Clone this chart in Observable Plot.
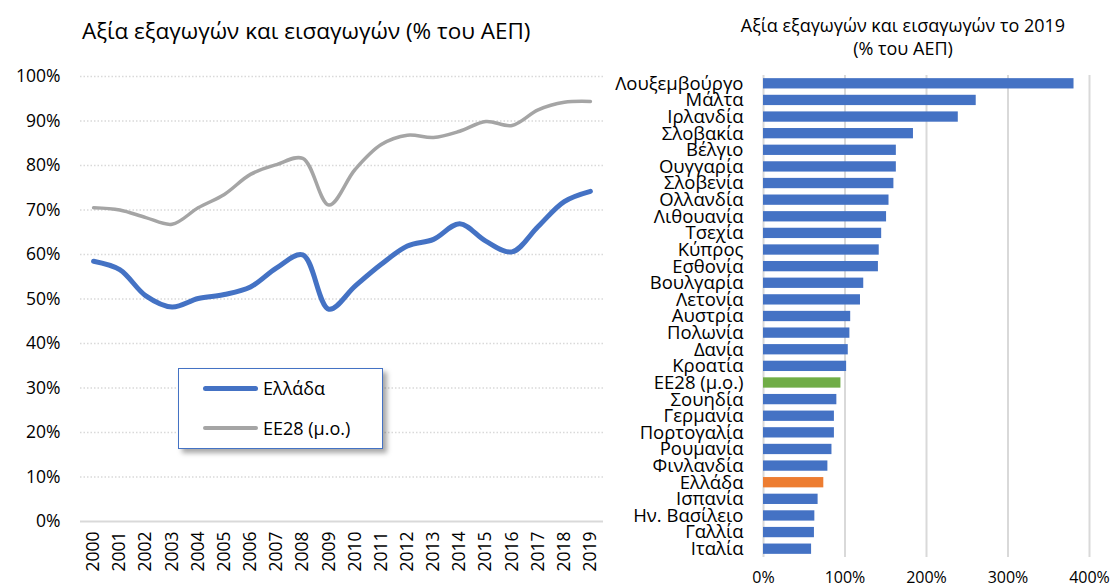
<!DOCTYPE html>
<html><head><meta charset="utf-8">
<script src="https://cdn.jsdelivr.net/npm/d3@7"></script>
<script src="https://cdn.jsdelivr.net/npm/@observablehq/plot@0.6"></script>
<style>
html,body{margin:0;padding:0;background:#fff;}
#wrap{position:relative;width:1111px;height:588px;overflow:hidden;font-family:"Open Sans",sans-serif;color:#000;}
.abs{position:absolute;}
#t1{left:82px;top:15px;font-size:22.5px;line-height:32px;white-space:nowrap;}
#t2{left:690px;width:426px;top:14px;font-size:18px;text-align:center;line-height:23px;white-space:nowrap;}
#legend{left:178px;top:368px;width:205px;height:81px;border:1.3px solid #4472C4;background:#fff;box-shadow:4px 4px 5px rgba(0,0,0,0.35);box-sizing:border-box;}
.li{position:absolute;left:24px;display:flex;align-items:center;font-size:18px;line-height:24px;}
.sw{width:55px;border-radius:3px;margin-right:5px;}
</style></head>
<body><div id="wrap">
<div id="t1" class="abs">Αξία εξαγωγών και εισαγωγών (% του ΑΕΠ)</div>
<div id="t2" class="abs">Αξία εξαγωγών και εισαγωγών το 2019<br>(% του ΑΕΠ)</div>
<div id="left" class="abs" style="left:0;top:60px;"></div>
<div id="right" class="abs" style="left:590px;top:60px;"></div>
<div id="legend" class="abs">
  <div class="li" style="top:7px;"><div class="sw" style="height:5px;background:#4472C4"></div>Ελλάδα</div>
  <div class="li" style="top:47px;"><div class="sw" style="height:3.5px;background:#A5A5A5"></div>ΕΕ28 (μ.ο.)</div>
</div>
</div>
<script>
// ---- Data ----
const years = ["2000","2001","2002","2003","2004","2005","2006","2007","2008","2009","2010","2011","2012","2013","2014","2015","2016","2017","2018","2019"];
const greece = [58.5,56.6,50.7,48.2,50.1,51.0,52.7,57.0,59.9,47.7,52.9,57.8,61.9,63.4,66.9,63.0,60.6,66.3,71.9,74.2];
const eu28 = [70.5,70.0,68.3,66.8,70.5,73.5,78.0,80.2,81.6,71.1,79.1,84.7,86.8,86.3,87.7,89.9,89.0,92.5,94.2,94.4];
const yTicks = [0,10,20,30,40,50,60,70,80,90,100];

const countries = ["Λουξεμβούργο","Μάλτα","Ιρλανδία","Σλοβακία","Βέλγιο","Ουγγαρία","Σλοβενία","Ολλανδία","Λιθουανία","Τσεχία","Κύπρος","Εσθονία","Βουλγαρία","Λετονία","Αυστρία","Πολωνία","Δανία","Κροατία","ΕΕ28 (μ.ο.)","Σουηδία","Γερμανία","Πορτογαλία","Ρουμανία","Φινλανδία","Ελλάδα","Ισπανία","Ην. Βασίλειο","Γαλλία","Ιταλία"];
const values2019 = [381,261,239,184,163,163,160,154,151,145,142,141,123,119,107,106,104,102,95,90,87,87,84,79,74,67,63,62.5,59];
const xTicks = [0,100,200,300,400];

const BLUE = "#4472C4", GRAY = "#A5A5A5", GREEN = "#70AD47", ORANGE = "#ED7D31", GRID = "#D9D9D9";
const FONT = "Open Sans, sans-serif";

// ---- Left chart ----
const lineData = years.flatMap((y,i)=>[{year:y,v:greece[i],s:"gr"},{year:y,v:eu28[i],s:"eu"}]);
const left = Plot.plot({
  width: 620, height: 528,
  marginLeft: 80, marginRight: 17, marginTop: 16, marginBottom: 67,
  style: {fontFamily: FONT, fontSize: "18px", color: "#000", background: "transparent"},
  x: {type: "point", domain: years, padding: 0.5, round: false, label: null},
  y: {domain: [0,100], label: null},
  marks: [
    Plot.ruleY(yTicks.filter(d=>d>0), {stroke: GRID, strokeWidth: 1.3, strokeDasharray: "1.5,2"}),
    Plot.ruleY([0], {stroke: GRID, strokeWidth: 2}),
    Plot.axisY(yTicks, {tickSize: 0, tickPadding: 20, tickFormat: d=>d+"%", fontSize: 17.5, label: null}),
    Plot.axisX({tickSize: 0, tickPadding: 10, tickRotate: -90, fontSize: 17.5, label: null}),
    Plot.line(lineData.filter(d=>d.s==="eu"), {x:"year", y:"v", stroke: GRAY, strokeWidth: 3.5, curve: "catmull-rom", strokeLinecap: "round"}),
    Plot.line(lineData.filter(d=>d.s==="gr"), {x:"year", y:"v", stroke: BLUE, strokeWidth: 5, curve: "catmull-rom", strokeLinecap: "round"})
  ]
});
document.getElementById("left").append(left);

// ---- Right chart ----
const barData = countries.map((c,i)=>({c, v: values2019[i], col: c==="Ελλάδα" ? ORANGE : (c==="ΕΕ28 (μ.ο.)" ? GREEN : BLUE)}));
const right = Plot.plot({
  width: 521, height: 528,
  marginLeft: 173, marginRight: 22, marginTop: 15, marginBottom: 31,
  style: {fontFamily: FONT, fontSize: "16px", color: "#000", background: "transparent", overflow: "visible"},
  x: {domain: [0,400], label: null},
  y: {domain: countries, paddingInner: 0.38, paddingOuter: 0.19, round: false, label: null},
  marks: [
    Plot.ruleX(xTicks, {stroke: GRID, strokeWidth: 2}),
    Plot.barX(barData, {y: "c", x: "v", fill: "col"}),
    Plot.axisY({tickSize: 0, tickPadding: 20, fontSize: 18.5, label: null}),
    Plot.axisX(xTicks, {tickSize: 0, tickPadding: 14, tickFormat: d=>d+"%", fontSize: 16, label: null})
  ]
});
document.getElementById("right").append(right);
</script>
</body></html>
